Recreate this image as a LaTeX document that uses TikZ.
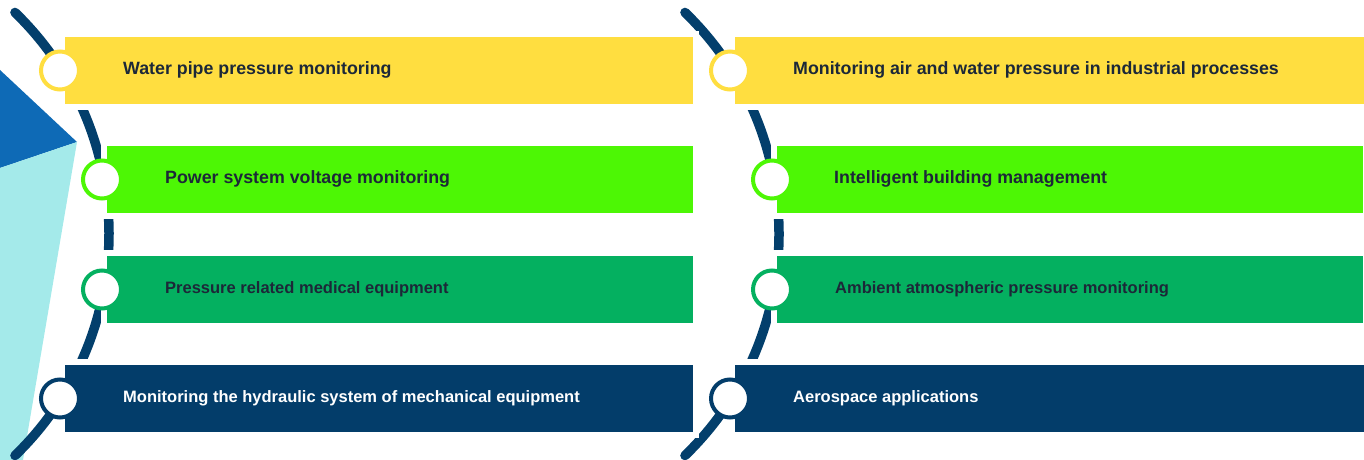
\documentclass[tikz,border=0pt]{standalone}
\usepackage{fontspec}
\setmainfont{Liberation Sans}
\usetikzlibrary{positioning}
\definecolor{barYellow}{RGB}{255,222,64}
\definecolor{barLime}{RGB}{77,247,5}
\definecolor{barGreen}{RGB}{4,176,96}
\definecolor{barNavy}{RGB}{3,61,106}
\definecolor{arcNavy}{RGB}{3,63,108}
\definecolor{leafBlue}{RGB}{14,106,182}
\definecolor{leafCyan}{RGB}{164,234,234}
\definecolor{textDark}{RGB}{28,40,56}

\begin{document}
\begin{tikzpicture}[x=1pt, y=1pt,
    bar/.style={rectangle, anchor=west, minimum height=67pt, inner sep=0pt, fill=#1, preaction={draw=white, line width=12pt}},
    ring/.style={circle, draw=#1, fill=white, line width=4pt, minimum size=38pt, inner sep=0pt},
    lbl/.style={anchor=west, inner sep=0pt, text height=13pt, text depth=4pt, text=textDark, font=\bfseries\fontsize{17.8}{20}\selectfont},
    lblsmall/.style={lbl, font=\bfseries\fontsize{16.5}{19}\selectfont},
    track/.style={draw=arcNavy, line width=9.5pt, line cap=round}]
    \useasboundingbox (0,0) rectangle (1364,460);

    % Corner leaves
    \fill[leafBlue] (0,390) -- (77,318) -- (0,292) -- cycle;
    \fill[leafCyan] (0,292) -- (77,318) -- (23,0) -- (0,0) -- cycle;

    % Tracks
    \coordinate (o1) at (-199,226);
    \coordinate (o2) at (471,226);
    \draw[track] (o1) ++(46:308) arc (46:-46:308);
    \draw[track] (o2) ++(46:308) arc (46:-46:308);

    % Left column
    \node[bar=barYellow, minimum width=628pt] (w1) at (65,389.5) {};
    \node[bar=barLime, minimum width=586pt] (w2) at (107,280.5) {};
    \node[bar=barGreen, minimum width=586pt] (w3) at (107,170.5) {};
    \node[bar=barNavy, minimum width=628pt] (w4) at (65,61.5) {};

    \node[ring=barYellow] (c1) at ([xshift=-5pt]w1.west) {};
    \node[ring=barLime] (c2) at ([xshift=-5pt]w2.west) {};
    \node[ring=barGreen] (c3) at ([xshift=-5pt]w3.west) {};
    \node[ring=barNavy] (c4) at ([xshift=-5pt]w4.west) {};

    \node[lbl, right=58pt of w1.west] (t1) {Water pipe pressure monitoring};
    \node[lbl, right=58pt of w2.west] (t2) {Power system voltage monitoring};
    \node[lblsmall, right=58pt of w3.west] (t3) {Pressure related medical equipment};
    \node[lblsmall, text=white, right=58pt of w4.west] (t4) {Monitoring the hydraulic system of mechanical equipment};

    % Right column
    \node[bar=barYellow, minimum width=629pt] (e1) at (735,389.5) {};
    \node[bar=barLime, minimum width=586pt] (e2) at (777,280.5) {};
    \node[bar=barGreen, minimum width=586pt] (e3) at (777,170.5) {};
    \node[bar=barNavy, minimum width=629pt] (e4) at (735,61.5) {};

    \node[ring=barYellow] (d1) at ([xshift=-5pt]e1.west) {};
    \node[ring=barLime] (d2) at ([xshift=-5pt]e2.west) {};
    \node[ring=barGreen] (d3) at ([xshift=-5pt]e3.west) {};
    \node[ring=barNavy] (d4) at ([xshift=-5pt]e4.west) {};

    \node[lbl, right=58pt of e1.west] (s1) {Monitoring air and water pressure in industrial processes};
    \node[lbl, right=57pt of e2.west] (s2) {Intelligent building management};
    \node[lblsmall, right=58pt of e3.west] (s3) {Ambient atmospheric pressure monitoring};
    \node[lblsmall, text=white, right=58pt of e4.west] (s4) {Aerospace applications};
\end{tikzpicture}
\end{document}
